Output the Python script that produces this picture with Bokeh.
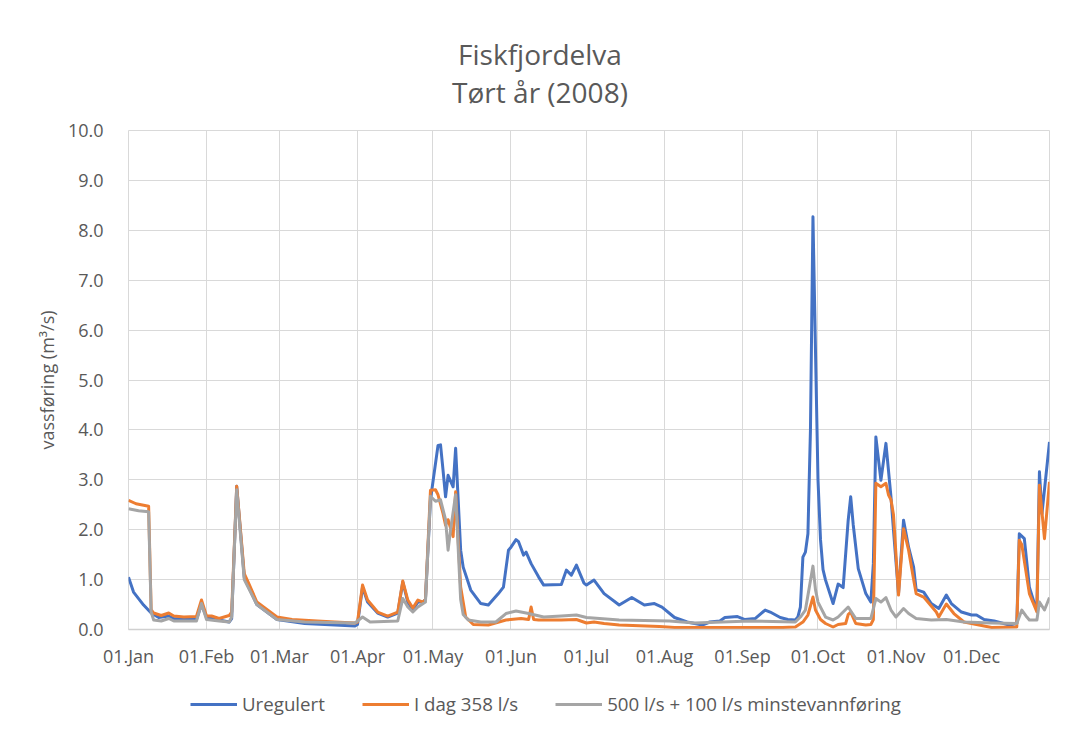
from bokeh.plotting import figure
from bokeh.layouts import column
from bokeh.models import (FixedTicker, NumeralTickFormatter, Legend, LegendItem, Label, Range1d)
from bokeh.embed import file_html
from bokeh.resources import INLINE

# ---------------- data (day offset from 01.Jan 2008, value m3/s) ----------------
month_days = [0, 31, 60, 91, 121, 152, 182, 213, 244, 274, 305, 335]
month_labels = ["01.Jan", "01.Feb", "01.Mar", "01.Apr", "01.May", "01.Jun",
                "01.Jul", "01.Aug", "01.Sep", "01.Oct", "01.Nov", "01.Dec"]

ureg_days = [0, 2, 6, 9, 12, 16, 18, 27, 29, 31, 35, 40, 41, 43, 46, 51, 59, 70, 82, 90,
             91, 93, 95, 99, 103, 107, 109, 111, 113, 115, 117, 118, 120, 123, 124, 125, 126,
             127, 129, 130, 132, 133, 136, 140, 143, 147, 149, 151, 152, 154, 155, 157, 158,
             160, 163, 165, 172, 174, 176, 178, 181, 182, 185, 189, 195, 200, 205, 209, 212,
             217, 222, 228, 231, 235, 237, 242, 245, 249, 253, 255, 259, 262, 265, 266, 267,
             268, 269, 270, 271, 272, 273, 274, 275, 276, 277, 280, 282, 284, 286, 287, 288,
             290, 293, 295, 296, 297, 299, 301, 303, 304, 306, 308, 310, 312, 313, 316, 319,
             322, 325, 327, 331, 335, 337, 340, 344, 350, 353, 354, 356, 358, 360, 361, 362,
             363, 366]
ureg_vals = [1.05, 0.75, 0.49, 0.33, 0.24, 0.27, 0.22, 0.20, 0.50, 0.24, 0.20, 0.15, 0.22, 2.87,
             1.05, 0.50, 0.20, 0.12, 0.09, 0.07,
             0.10, 0.85, 0.55, 0.33, 0.25, 0.33, 0.95, 0.55, 0.40, 0.55, 0.55, 0.60, 2.60, 3.69,
             3.70, 3.19, 2.66,
             3.09, 2.86, 3.63, 1.59, 1.25, 0.79, 0.52, 0.49, 0.72, 0.85, 1.59, 1.65, 1.80, 1.76,
             1.49, 1.55,
             1.32, 1.05, 0.89, 0.90, 1.19, 1.09, 1.29, 0.93, 0.89, 0.99, 0.72, 0.49, 0.64, 0.49,
             0.52, 0.45,
             0.24, 0.15, 0.09, 0.15, 0.17, 0.24, 0.26, 0.20, 0.22, 0.39, 0.35, 0.24, 0.20, 0.19,
             0.25, 0.45,
             1.45, 1.55, 1.92, 3.99, 8.27, 5.60, 3.00, 1.80, 1.20, 0.99, 0.52, 0.91, 0.84, 2.19,
             2.66, 2.10,
             1.22, 0.72, 0.55, 1.32, 3.86, 2.99, 3.73, 2.66, 1.99, 0.72, 2.19, 1.65, 1.25, 0.80,
             0.75, 0.52,
             0.42, 0.69, 0.52, 0.35, 0.29, 0.29, 0.20, 0.17, 0.09, 0.12, 1.92, 1.82, 0.85, 0.52,
             0.45, 3.16,
             2.32, 3.76]

idag_days = [0, 3, 6, 8, 9, 10, 13, 16, 18, 22, 27, 29, 31, 33, 36, 40, 41, 43, 46, 48, 51,
             55, 59, 65, 75, 82, 90, 91, 93, 95, 99, 103, 107, 109, 111, 113, 115, 117, 118,
             120, 122, 123, 125, 126, 127, 129, 130, 132, 134, 137, 143, 150, 156, 159, 160,
             161, 163, 172, 178, 182, 185, 189, 195, 211, 217, 260, 265, 268, 270, 272, 273,
             275, 277, 280, 282, 285, 286, 287, 289, 293, 295, 296, 297, 299, 301, 302, 303,
             304, 306, 308, 310, 312, 313, 316, 321, 322, 325, 328, 332, 338, 343, 353, 354,
             355, 358, 361, 362, 364, 366]
idag_vals = [2.59, 2.52, 2.49, 2.47, 0.40, 0.33, 0.28, 0.33, 0.27, 0.25, 0.26, 0.59, 0.27,
             0.27, 0.22, 0.28, 0.35, 2.87, 1.12, 0.90, 0.55,
             0.40, 0.25, 0.20, 0.17, 0.15, 0.13, 0.15, 0.89, 0.59, 0.35, 0.27, 0.35, 0.97, 0.59,
             0.43, 0.59, 0.55, 0.60,
             2.79, 2.80, 2.70, 2.32, 2.09, 2.20, 1.86, 2.76, 0.85, 0.25, 0.10, 0.09, 0.19, 0.22,
             0.20, 0.45,
             0.20, 0.19, 0.19, 0.20, 0.13, 0.15, 0.12, 0.09, 0.06, 0.04, 0.04, 0.05, 0.15, 0.29,
             0.65, 0.39,
             0.20, 0.12, 0.05, 0.10, 0.12, 0.30, 0.35, 0.12, 0.09, 0.10, 0.20, 2.93, 2.86, 2.93,
             2.70, 2.60,
             2.30, 0.69, 2.02, 1.59, 1.00, 0.72, 0.65, 0.35, 0.25, 0.51, 0.32, 0.15, 0.09, 0.04,
             0.05, 1.79,
             1.70, 0.72, 0.35, 2.89, 1.82, 2.96]

alt_days = [0, 4, 8, 9, 10, 13, 16, 18, 27, 29, 31, 36, 40, 41, 43, 46, 51, 59, 70, 90, 93,
            96, 107, 109, 111, 113, 115, 118, 120, 122, 124, 126, 127, 128, 130, 132, 133, 135,
            140, 146, 150, 154, 159, 165, 172, 178, 182, 195, 215, 225, 247, 265, 267, 269,
            272, 273, 274, 277, 280, 282, 286, 289, 295, 297, 299, 301, 303, 305, 308, 310,
            313, 319, 325, 332, 343, 353, 355, 357, 358, 361, 362, 364, 366]
alt_vals = [2.42, 2.38, 2.36, 0.35, 0.19, 0.17, 0.22, 0.17, 0.17, 0.52, 0.20, 0.17, 0.15,
            0.25, 2.80, 1.00, 0.50, 0.20, 0.15, 0.13, 0.25,
            0.15, 0.17, 0.62, 0.45, 0.35, 0.45, 0.55, 2.67, 2.57, 2.60, 2.20, 1.59, 2.00, 2.70,
            0.60, 0.30, 0.19,
            0.15, 0.15, 0.32, 0.37, 0.32, 0.25, 0.27, 0.29, 0.24, 0.19, 0.17, 0.13, 0.17, 0.15,
            0.25, 0.39,
            1.27, 0.80, 0.55, 0.25, 0.19, 0.25, 0.45, 0.22, 0.22, 0.62, 0.55, 0.64, 0.39, 0.25,
            0.42, 0.32,
            0.22, 0.19, 0.20, 0.15, 0.13, 0.12, 0.39, 0.25, 0.19, 0.19, 0.55, 0.39, 0.64]

series_names = ["Uregulert", "I dag 358 l/s", "500 l/s + 100 l/s minstevannføring"]
series_colors = ["#4472C4", "#ED7D31", "#A5A5A5"]
title_lines = ["Fiskfjordelva", "Tørt år (2008)"]
all_days = [ureg_days, idag_days, alt_days]
all_vals = [ureg_vals, idag_vals, alt_vals]

FONT = "Open Sans"
TXT = "#595959"


def strip(height):
    f = figure(width=1058, height=height, output_backend="svg", toolbar_location=None,
               min_border_left=0, min_border_right=0, min_border_top=0, min_border_bottom=0)
    f.axis.visible = False
    f.grid.visible = False
    f.outline_line_color = None
    f.background_fill_color = "white"
    f.border_fill_color = "white"
    return f


# ---- title strip (frame aligned with the chart frame: 128..1049 px) ----
top = strip(110)
top.x_range = Range1d(128, 1049)
top.y_range = Range1d(110, 0)
for txt, yb in zip(title_lines, [53, 91]):
    top.add_layout(Label(x=539.5, y=yb, text=txt, text_font=FONT, text_font_size="28px",
                         text_color=TXT, text_align="center", text_baseline="alphabetic"))

# ---- main chart ----
p = figure(width=1058, height=570, output_backend="svg", toolbar_location=None,
           x_range=Range1d(0, 366), y_range=Range1d(0, 10),
           min_border_left=128, min_border_right=9, min_border_top=20, min_border_bottom=51)
p.background_fill_color = "white"
p.border_fill_color = "white"
p.outline_line_color = "#d9d9d9"
p.outline_line_width = 1

for d, v, c in zip(all_days, all_vals, series_colors):
    p.line(d, v, line_color=c, line_width=3, line_join="round")

p.xaxis.ticker = FixedTicker(ticks=month_days)
p.xaxis.major_label_overrides = {d: lab for d, lab in zip(month_days, month_labels)}
p.yaxis.ticker = FixedTicker(ticks=list(range(0, 11)))
p.yaxis.formatter = NumeralTickFormatter(format="0.0")
for ax in [p.xaxis, p.yaxis]:
    ax.major_tick_line_color = None
    ax.minor_tick_line_color = None
    ax.major_label_text_font = FONT
    ax.major_label_text_font_size = "18px"
    ax.major_label_text_color = TXT
p.yaxis.axis_line_color = None
p.xaxis.axis_line_color = "#d0d0d0"
p.xaxis.axis_line_width = 1.5
p.xaxis.major_label_standoff = 8
p.yaxis.major_label_standoff = 19
p.yaxis.axis_label = "vassføring (m³/s)"
p.yaxis.axis_label_text_font = FONT
p.yaxis.axis_label_text_font_size = "18px"
p.yaxis.axis_label_text_font_style = "normal"
p.yaxis.axis_label_text_color = TXT
p.yaxis.axis_label_standoff = 6

p.xgrid.ticker = FixedTicker(ticks=month_days)
p.ygrid.ticker = FixedTicker(ticks=list(range(0, 11)))
p.xgrid.grid_line_color = "#d9d9d9"
p.ygrid.grid_line_color = "#d9d9d9"
p.xgrid.grid_line_width = 1
p.ygrid.grid_line_width = 1

# ---- legend strip ----
q = strip(46)
q.x_range = Range1d(0, 366)
q.y_range = Range1d(100, 101)   # series lie outside this view: only their legend swatches show
proxies = [q.line(d, v, line_color=c, line_width=3) for d, v, c in zip(all_days, all_vals, series_colors)]

legend = Legend(items=[LegendItem(label=n, renderers=[r]) for n, r in zip(series_names, proxies)],
                orientation="horizontal", location=(62, 10))
legend.label_text_font = FONT
legend.label_text_font_size = "18.7px"
legend.label_text_color = TXT
legend.glyph_width = 47
legend.glyph_height = 20
legend.label_standoff = 5
legend.spacing = 37
legend.padding = 0
legend.margin = 0
legend.background_fill_alpha = 0
legend.border_line_color = None
q.add_layout(legend)

layout = column(top, p, q, spacing=0)
open("out.html", "w").write(file_html(layout, INLINE))
